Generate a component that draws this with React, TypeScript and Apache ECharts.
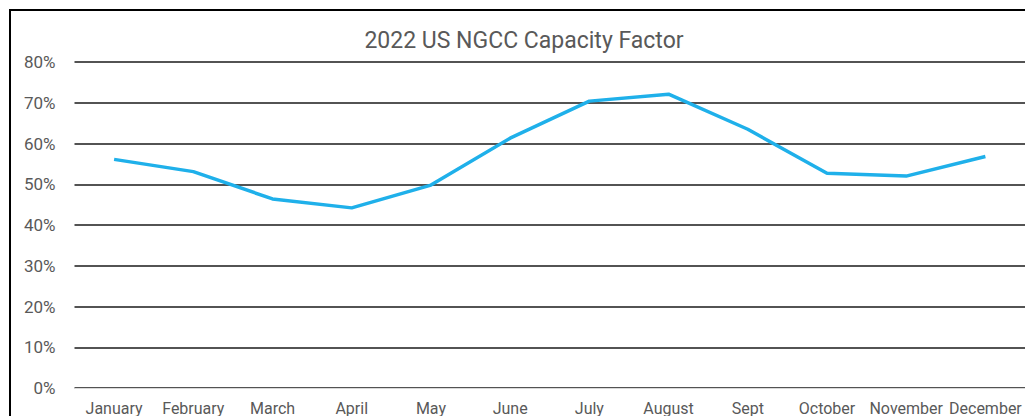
import React, { useEffect, useRef } from "react";
import * as echarts from "echarts";

const title = "2022 US NGCC Capacity Factor";
const months = ["January", "February", "March", "April", "May", "June", "July", "August", "Sept", "October", "November", "December"];
const capacityFactor = [56.1, 53.1, 46.4, 44.2, 49.8, 61.3, 70.4, 72.1, 63.5, 52.7, 52.0, 56.8];
const yMin = 0;
const yMax = 80;
const yStep = 10;

export default function App() {
  const ref = useRef<HTMLDivElement>(null);
  useEffect(() => {
    if (!ref.current) return;
    const chart = echarts.init(ref.current, null, { renderer: "svg" });
    chart.setOption({
      animation: false,
      backgroundColor: "#ffffff",
      title: {
        text: title,
        left: 519,
        textAlign: "center",
        top: 24,
        textStyle: { fontFamily: "Roboto", fontSize: 23, fontWeight: "normal", color: "#595959" },
      },
      graphic: [
        {
          type: "rect",
          shape: { x: 10, y: 10, width: 1040, height: 430 },
          style: { fill: "none", stroke: "#000", lineWidth: 2 },
          z: 100,
        },
      ],
      grid: { left: 74.5, right: 0, top: 62, bottom: 28, containLabel: false },
      xAxis: {
        type: "category",
        data: months,
        boundaryGap: true,
        axisLine: { show: true, lineStyle: { color: "#d9d9d9", width: 1 } },
        axisTick: { show: false },
        axisLabel: {
          interval: 0,
          hideOverlap: false,
          margin: 12,
          fontFamily: "Roboto",
          fontSize: 16,
          color: "#595959",
        },
        splitLine: { show: false },
      },
      yAxis: {
        type: "value",
        min: yMin,
        max: yMax,
        interval: yStep,
        axisLine: { show: false },
        axisTick: { show: false },
        axisLabel: {
          formatter: "{value}%",
          margin: 19,
          fontFamily: "Roboto",
          fontSize: 17,
          color: "#595959",
        },
        splitLine: { show: true, lineStyle: { color: "#1a1a1a", width: 1.5 } },
      },
      series: [
        {
          type: "line",
          data: capacityFactor,
          symbol: "none",
          lineStyle: { color: "#1fb0ea", width: 3.5 },
          z: 5,
        },
      ],
    });
    return () => chart.dispose();
  }, []);
  return (
    <div
      ref={ref}
      style={{ position: "absolute", left: 0, top: 0, width: 1025, height: 416 }}
    />
  );
}
